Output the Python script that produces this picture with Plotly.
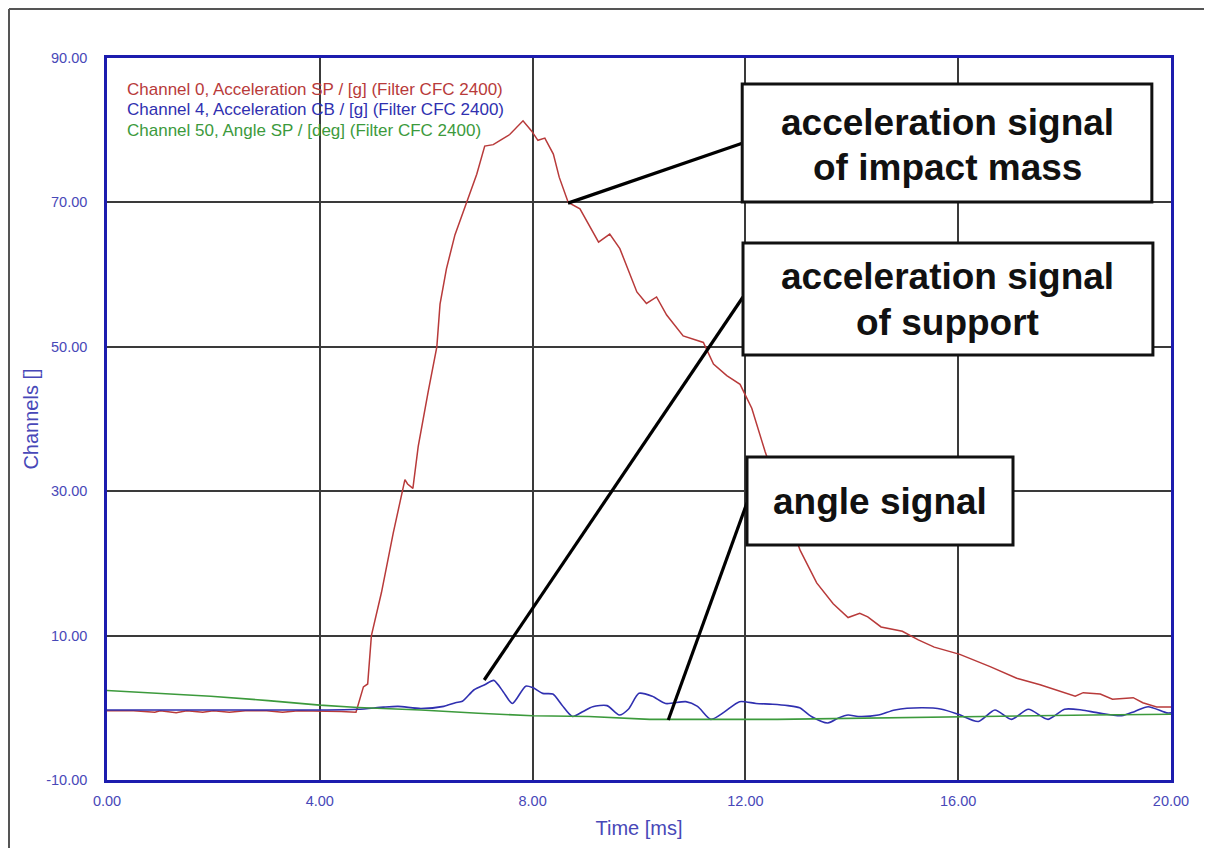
import plotly.graph_objects as go

# ---------------- data ----------------
red_t = [0, 0.5, 0.9, 1.0, 1.3, 1.5, 1.8, 2.0, 2.3, 2.6, 3.0, 3.3, 3.6, 4.0, 4.4, 4.68,
         4.75, 4.82, 4.9, 4.97, 5.16, 5.38, 5.6, 5.65, 5.75, 5.85, 6.04, 6.2, 6.26, 6.38,
         6.54, 6.76, 6.95, 7.1, 7.26, 7.39, 7.57, 7.82, 7.98, 8.1, 8.23, 8.39, 8.5, 8.67,
         8.89, 9.24, 9.45, 9.64, 9.96, 10.14, 10.33, 10.52, 10.83, 11.21, 11.4, 11.65,
         11.9, 12.12, 12.37, 12.7, 13.03, 13.34, 13.65, 13.93, 14.15, 14.3, 14.55, 14.95,
         15.25, 15.55, 16.03, 16.6, 17.1, 17.54, 17.97, 18.2, 18.35, 18.67, 18.9, 19.29,
         19.47, 19.73, 20.0]
red_v = [-0.4, -0.4, -0.6, -0.4, -0.7, -0.4, -0.6, -0.4, -0.6, -0.4, -0.4, -0.6, -0.4,
         -0.4, -0.5, -0.6, 1.0, 2.9, 3.3, 10, 16, 24.2, 31.6, 31.0, 30.4, 36.2, 43.9, 50,
         55.9, 60.8, 65.5, 70, 73.9, 77.8, 78, 78.6, 79.4, 81.3, 79.9, 78.6, 78.9, 76.7,
         73.5, 70, 69.1, 64.5, 65.6, 63.6, 57.6, 56, 56.9, 54.4, 51.5, 50.6, 47.6, 46,
         44.8, 41.5, 35.5, 28.5, 21.8, 17.3, 14.4, 12.5, 13.1, 12.6, 11.2, 10.6, 9.4, 8.4,
         7.4, 5.7, 4.1, 3.2, 2.1, 1.6, 2.1, 1.9, 1.2, 1.4, 0.7, 0.1, 0.1]

blue_t = [0, 1, 2, 3, 4, 4.72, 5.2, 5.47, 5.9, 6.33, 6.55, 6.68, 6.9, 7.1, 7.27, 7.45,
          7.62, 7.87, 8.0, 8.19, 8.38, 8.55, 8.75, 8.95, 9.13, 9.4, 9.63, 9.8, 10.0, 10.25,
          10.5, 10.88, 11.1, 11.35, 11.6, 11.89, 12.2, 12.51, 12.8, 13.02, 13.24, 13.55,
          13.75, 13.93, 14.12, 14.5, 14.81, 15.31, 15.69, 16.0, 16.38, 16.69, 17.0, 17.32,
          17.69, 18.0, 18.32, 18.63, 19.07, 19.32, 19.57, 19.92, 20.0]
blue_v = [-0.3, -0.3, -0.3, -0.3, -0.3, -0.2, 0.1, 0.2, -0.1, 0.2, 0.7, 0.9, 2.5, 3.2,
          3.8, 2.2, 0.6, 3.0, 2.8, 2.0, 1.9, 0.4, -1.2, -0.5, 0.15, 0.3, -1.0, -0.2, 2.0,
          1.6, 0.6, 0.85, 0.2, -1.6, -0.6, 0.85, 0.6, 0.5, 0.3, 0.0, -1.2, -2.1, -1.4,
          -1.0, -1.2, -1.0, -0.3, 0.0, -0.2, -0.9, -1.9, -0.3, -1.6, -0.2, -1.6, -0.2,
          -0.3, -0.7, -1.1, -0.5, 0.15, -0.7, -0.7]

green_t = [0, 0.87, 1.95, 3.03, 4.0, 4.72, 5.9, 6.98, 8.0, 9.06, 10.2, 12.6, 16.0, 18.5, 20.0]
green_v = [2.4, 2.06, 1.6, 1.0, 0.37, 0.05, -0.3, -0.75, -1.1, -1.2, -1.6, -1.6, -1.2, -1.0, -0.9]

legend_labels = ["Channel 0, Acceleration SP / [g] (Filter CFC 2400)",
                 "Channel 4, Acceleration CB / [g] (Filter CFC 2400)",
                 "Channel 50, Angle SP / [deg] (Filter CFC 2400)"]
callout_lines = [["acceleration signal", "of impact mass"],
                 ["acceleration signal", "of support"],
                 ["angle signal"]]

x_ticks = [0, 4, 8, 12, 16, 20]
y_ticks = [-10, 10, 30, 50, 70, 90]

# ---------------- styling ----------------
RED = "#b83a3a"
BLUE = "#3030b0"
GREEN = "#3c9a3c"
TICK_BLUE = "#4848b8"
FRAME_BLUE = "#1c1cae"
FONT = "Liberation Sans, Arial, sans-serif"

# page has an 8px body margin, so the figure is sized to fit the window
W, H = 1204, 840
ML, MR, MT, MB = 99, 41, 50, 68

fig = go.Figure()
fig.add_trace(go.Scatter(x=red_t, y=red_v, mode="lines", line=dict(color=RED, width=1.5),
                         name=legend_labels[0]))
fig.add_trace(go.Scatter(x=blue_t, y=blue_v, mode="lines",
                         line=dict(color=BLUE, width=1.6, shape="spline", smoothing=0.7),
                         name=legend_labels[1]))
fig.add_trace(go.Scatter(x=green_t, y=green_v, mode="lines", line=dict(color=GREEN, width=1.6),
                         name=legend_labels[2]))

# legend text block (top-left inside plot)
leg_colors = [RED, BLUE, GREEN]
leg_y = [85.7, 82.8, 79.9]
for txt, col, yy in zip(legend_labels, leg_colors, leg_y):
    fig.add_annotation(x=0.34, y=yy, xref="x", yref="y", text=txt, showarrow=False,
                       xanchor="left", yanchor="middle",
                       font=dict(family=FONT, size=17, color=col))

# callout boxes (data coordinates)
boxes = [(11.94, 19.64, 70.06, 86.4),
         (11.955, 19.66, 48.86, 64.38),
         (12.03, 17.03, 22.55, 34.74)]
text_pos = [(15.8, [81.1, 74.9]), (15.8, [59.7, 53.3]), (14.53, [28.6])]
leaders = [((8.665, 69.9), (11.94, 78.2)),
           ((7.09, 3.85), (11.955, 56.9)),
           ((10.55, -1.7), (12.03, 28.4))]

for (p0, p1) in leaders:
    fig.add_shape(type="line", xref="x", yref="y", x0=p0[0], y0=p0[1], x1=p1[0], y1=p1[1],
                  line=dict(color="black", width=3.2), layer="above")
for (x0, x1, y0, y1) in boxes:
    fig.add_shape(type="rect", xref="x", yref="y", x0=x0, x1=x1, y0=y0, y1=y1,
                  line=dict(color="#111111", width=3), fillcolor="white", layer="above")
for lines, (tx, tys) in zip(callout_lines, text_pos):
    for txt, ty in zip(lines, tys):
        fig.add_annotation(x=tx, y=ty, xref="x", yref="y", text="<b>" + txt + "</b>",
                           showarrow=False, xanchor="center", yanchor="middle",
                           font=dict(family=FONT, size=37, color="#111111"))

# outer frame (top and left edges of the screenshot)
pw, ph = W - ML - MR, H - MT - MB
fx = (1 - ML) / pw
fy = (H - MB - 1) / ph
fig.add_shape(type="line", xref="paper", yref="paper", x0=fx, x1=(W - ML) / pw, y0=fy, y1=fy,
              line=dict(color="#555555", width=2))
fig.add_shape(type="line", xref="paper", yref="paper", x0=fx, x1=fx, y0=fy, y1=-MB / ph,
              line=dict(color="#555555", width=2))

axis_common = dict(showgrid=True, gridcolor="#3a3a3a", gridwidth=1.5, zeroline=False,
                   showline=True, linecolor=FRAME_BLUE, linewidth=2.5, mirror=True,
                   ticks="",
                   tickfont=dict(family=FONT, size=14.5, color=TICK_BLUE))

fig.update_xaxes(range=[0, 20], tickvals=x_ticks, ticktext=[f"{v:.2f}" for v in x_ticks],
                 ticklabelstandoff=6,
                 title=dict(text="Time [ms]", font=dict(family=FONT, size=20, color=TICK_BLUE),
                            standoff=13),
                 **axis_common)
fig.update_yaxes(range=[-10, 90], tickvals=y_ticks, ticktext=[f"{v:.2f}" for v in y_ticks],
                 ticklabelstandoff=14,
                 title=dict(text="Channels []", font=dict(family=FONT, size=20, color=TICK_BLUE),
                            standoff=3),
                 **axis_common)

fig.update_layout(width=W, height=H, margin=dict(l=ML, r=MR, t=MT, b=MB),
                  paper_bgcolor="white", plot_bgcolor="white", showlegend=False)

fig.write_html("out.html")
